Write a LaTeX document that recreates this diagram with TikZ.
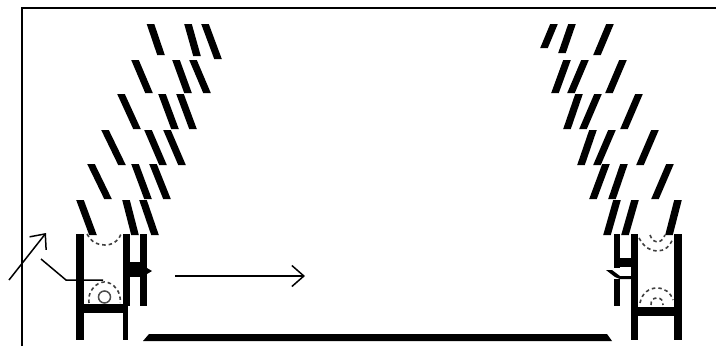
\documentclass[tikz,border=0pt]{standalone}
\usetikzlibrary{arrows.meta}
\tikzset{
  inkfill/.style={fill=black,draw=none},
  thinline/.style={draw=black,line width=1.5pt},
  openarrow/.style={thinline,-{Straight Barb[length=12pt,width=21pt,line width=1.5pt]}},
  arcdash/.style={draw=black!75,line width=1.6pt,dash pattern=on 3.5pt off 3pt},
}
\newcommand{\stk}[4]{\fill (#1-3.8,#2) -- (#1+3.8,#2) -- (#3+3.8,#4) -- (#3-3.8,#4) -- cycle;}
\begin{document}
\begin{tikzpicture}[x=1pt,y=-1pt]
\useasboundingbox (0,0) rectangle (716,346);
\fill[white] (0,0) rectangle (716,346);
% frame
\draw[line width=2pt] (22,346) -- (22,8) -- (716,8);
% left strokes
\stk{150.5}{24}{161}{55}\stk{188}{24}{197}{56}\stk{205}{24}{218}{59}
\stk{135}{60}{149}{93}\stk{176}{60}{188}{93}\stk{193}{60}{207}{93}
\stk{121}{94}{137}{129}\stk{162}{94}{175}{129}\stk{180}{94}{193}{129}
\stk{105}{130}{122}{165}\stk{148}{130}{163}{165}\stk{167}{130}{182}{165}
\stk{91}{164}{108}{199}\stk{135}{164}{148}{199}\stk{153}{164}{167}{199}
\stk{80}{200}{93}{235}\stk{126}{200}{135}{235}\stk{143}{200}{155}{235}
% right strokes
\stk{554}{24}{544}{48}\stk{572}{24}{562}{53}\stk{610}{24}{597}{55}
\stk{567}{60}{555}{93}\stk{585}{60}{571}{93}\stk{623}{60}{609}{93}
\stk{579}{94}{567}{129}\stk{598}{94}{583}{129}\stk{639}{94}{624}{129}
\stk{593}{130}{581}{165}\stk{612}{130}{597}{165}\stk{655}{130}{640}{165}
\stk{606}{164}{593}{199}\stk{624}{164}{612}{199}\stk{670}{164}{655}{199}
\stk{617}{200}{607}{235}\stk{635}{200}{625}{235}\stk{678}{200}{669}{235}
% left structure
\fill[inkfill] (76,234) rectangle (83.5,340);
\fill[inkfill] (76,304) rectangle (128,313);
\fill[inkfill] (123,304) rectangle (128,340);
\fill[inkfill] (123,234) rectangle (129.5,306);
\fill[inkfill] (140,234) rectangle (147,306);
\fill[inkfill] (129,262) rectangle (147,277);
\fill[inkfill] (147,268) -- (152,271) -- (147,274) -- cycle;
% right structure
\fill[inkfill] (614,234) rectangle (620,306);
\fill[inkfill] (631,234) rectangle (638,340);
\fill[inkfill] (620,258) rectangle (631,267);
\fill[white] (613,268) rectangle (631,285);
\fill[inkfill] (606,270) -- (612,270) -- (620,276) -- (631,276) -- (631,279) -- (620,279) -- (615,277) -- cycle;
\fill[inkfill] (614,279) rectangle (620,285);
\fill[inkfill] (674,234) rectangle (682,340);
\fill[inkfill] (631,307) rectangle (682,316);
% bottom bar
\fill[inkfill] (143,341) -- (149,334) -- (607,334) -- (612,341) -- cycle;
% arcs, left
\draw[arcdash] (87,234) .. controls (92,243) and (98,245) .. (105,245) .. controls (112,245) and (118,242) .. (121,234);
\draw[arcdash] (89,303) .. controls (87,292) and (96,282) .. (104.5,282) .. controls (113,282) and (122,292) .. (120,303);
\draw[draw=black!70,line width=1.5pt] (104.5,297) circle (6);
% arcs, right
\draw[arcdash] (639,238) .. controls (644,247) and (650,251) .. (657,251) .. controls (664,251) and (670,247) .. (673,238);
\draw[arcdash] (650,235) .. controls (652,240) and (654,242) .. (657,242) .. controls (660,242) and (663,240) .. (665,235);
\draw[arcdash] (640,303) .. controls (642,293) and (649,288) .. (657,288) .. controls (665,288) and (671,293) .. (673,300);
\draw[arcdash] (651,305) .. controls (651,300) and (653,298) .. (657,298) .. controls (661,298) and (663,300) .. (663,305);
% connectors
\coordinate (a1) at (9,280); \coordinate (a2) at (46,233);
\coordinate (b1) at (41,259); \coordinate (b2) at (66,280); \coordinate (b3) at (103,280);
\coordinate (c1) at (175,276); \coordinate (c2) at (305,276);
\draw[openarrow] (a1) -- (a2);
\draw[thinline] (b1) -- (b2) -- (b3);
\draw[openarrow] (c1) -- (c2);
\end{tikzpicture}
\end{document}
